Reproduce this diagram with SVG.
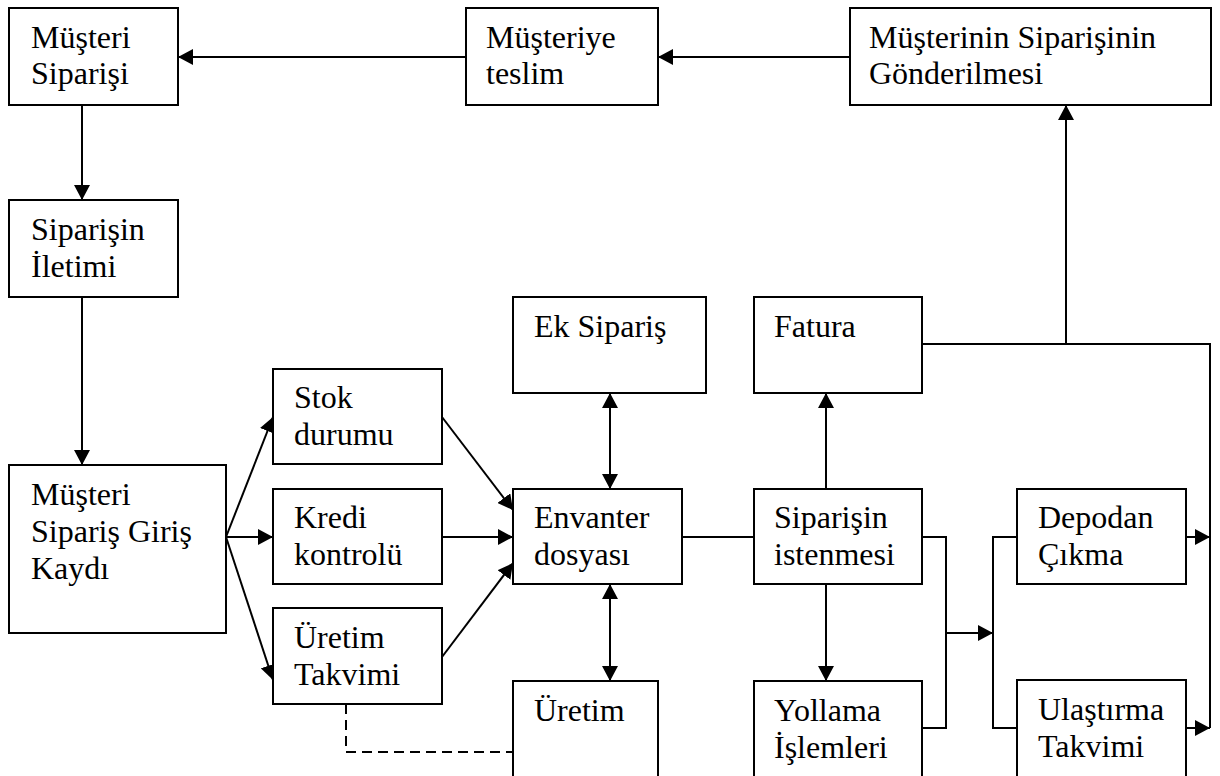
<svg xmlns="http://www.w3.org/2000/svg" width="1220" height="776" viewBox="0 0 1220 776">
  <defs>
    <marker id="arrow" markerUnits="userSpaceOnUse" markerWidth="16" markerHeight="16" refX="15" refY="8" orient="auto-start-reverse">
      <path d="M0,0 L15,8 L0,16 z" fill="#000"/>
    </marker>
  </defs>
  <style>
    .box { fill: #fff; stroke: #000; stroke-width: 2; }
    .lbl { font-family: "Liberation Serif", "Times New Roman", serif; font-size: 32px; fill: #000; }
    .ln { fill: none; stroke: #000; stroke-width: 2; }
    .arr { marker-end: url(#arrow); }
    .both { marker-start: url(#arrow); marker-end: url(#arrow); }
    .dash { stroke-dasharray: 10 6; }
  </style>
  <rect width="1220" height="776" fill="#fff"/>

  <!-- connectors -->
  <g id="connectors">
    <line class="ln arr" x1="466" y1="57" x2="178" y2="57"/>
    <line class="ln arr" x1="850" y1="57" x2="658" y2="57"/>
    <line class="ln arr" x1="82" y1="105" x2="82" y2="200"/>
    <line class="ln arr" x1="82" y1="297" x2="82" y2="465"/>

    <line class="ln arr" x1="226" y1="537" x2="273" y2="417"/>
    <line class="ln arr" x1="226" y1="537" x2="273" y2="537"/>
    <line class="ln arr" x1="226" y1="537" x2="273" y2="680"/>

    <line class="ln arr" x1="442" y1="417" x2="513" y2="510"/>
    <line class="ln arr" x1="442" y1="537" x2="513" y2="537"/>
    <line class="ln arr" x1="442" y1="657" x2="513" y2="563"/>

    <polyline class="ln dash" points="346,704 346,752 513,752"/>

    <line class="ln both" x1="610" y1="393" x2="610" y2="489"/>
    <line class="ln both" x1="610" y1="584" x2="610" y2="681"/>
    <line class="ln" x1="682" y1="537" x2="754" y2="537"/>

    <line class="ln arr" x1="826" y1="489" x2="826" y2="393"/>
    <line class="ln arr" x1="826" y1="584" x2="826" y2="681"/>

    <polyline class="ln" points="922,344 1210,344 1210,728"/>
    <line class="ln arr" x1="1066" y1="344" x2="1066" y2="105"/>

    <polyline class="ln" points="922,537 946,537 946,728 922,728"/>
    <line class="ln arr" x1="946" y1="633" x2="993" y2="633"/>
    <polyline class="ln" points="1017,537 993,537 993,728 1017,728"/>

    <line class="ln arr" x1="1186" y1="537" x2="1210" y2="537"/>
    <line class="ln arr" x1="1186" y1="728" x2="1210" y2="728"/>
  </g>

  <!-- nodes -->
  <g id="musteri-siparisi">
    <rect class="box" x="9" y="8" width="169" height="97"/>
    <text class="lbl" x="31" y="48">Müşteri</text>
    <text class="lbl" x="31" y="84">Siparişi</text>
  </g>
  <g id="musteriye-teslim">
    <rect class="box" x="466" y="8" width="192" height="97"/>
    <text class="lbl" x="486" y="48">Müşteriye</text>
    <text class="lbl" x="486" y="84">teslim</text>
  </g>
  <g id="gonderilmesi">
    <rect class="box" x="850" y="8" width="361" height="97"/>
    <text class="lbl" x="869" y="48">Müşterinin Siparişinin</text>
    <text class="lbl" x="869" y="84">Gönderilmesi</text>
  </g>
  <g id="siparisin-iletimi">
    <rect class="box" x="9" y="200" width="169" height="97"/>
    <text class="lbl" x="31" y="240">Siparişin</text>
    <text class="lbl" x="31" y="277">İletimi</text>
  </g>
  <g id="giris-kaydi">
    <rect class="box" x="9" y="465" width="217" height="168"/>
    <text class="lbl" x="31" y="505">Müşteri</text>
    <text class="lbl" x="31" y="542">Sipariş Giriş</text>
    <text class="lbl" x="31" y="579">Kaydı</text>
  </g>
  <g id="stok-durumu">
    <rect class="box" x="273" y="369" width="169" height="95"/>
    <text class="lbl" x="294" y="408">Stok</text>
    <text class="lbl" x="294" y="445">durumu</text>
  </g>
  <g id="kredi-kontrolu">
    <rect class="box" x="273" y="489" width="169" height="95"/>
    <text class="lbl" x="294" y="528">Kredi</text>
    <text class="lbl" x="294" y="565">kontrolü</text>
  </g>
  <g id="uretim-takvimi">
    <rect class="box" x="273" y="608" width="169" height="96"/>
    <text class="lbl" x="294" y="648">Üretim</text>
    <text class="lbl" x="294" y="685">Takvimi</text>
  </g>
  <g id="ek-siparis">
    <rect class="box" x="513" y="297" width="193" height="96"/>
    <text class="lbl" x="534" y="337">Ek Sipariş</text>
  </g>
  <g id="fatura">
    <rect class="box" x="754" y="297" width="168" height="96"/>
    <text class="lbl" x="774" y="337">Fatura</text>
  </g>
  <g id="envanter-dosyasi">
    <rect class="box" x="513" y="489" width="169" height="95"/>
    <text class="lbl" x="534" y="528">Envanter</text>
    <text class="lbl" x="534" y="565">dosyası</text>
  </g>
  <g id="siparisin-istenmesi">
    <rect class="box" x="754" y="489" width="168" height="95"/>
    <text class="lbl" x="774" y="528">Siparişin</text>
    <text class="lbl" x="774" y="565">istenmesi</text>
  </g>
  <g id="uretim">
    <rect class="box" x="513" y="681" width="145" height="100"/>
    <text class="lbl" x="534" y="721">Üretim</text>
  </g>
  <g id="yollama-islemleri">
    <rect class="box" x="754" y="681" width="168" height="100"/>
    <text class="lbl" x="774" y="721">Yollama</text>
    <text class="lbl" x="774" y="758">İşlemleri</text>
  </g>
  <g id="depodan-cikma">
    <rect class="box" x="1017" y="489" width="169" height="95"/>
    <text class="lbl" x="1038" y="528">Depodan</text>
    <text class="lbl" x="1038" y="565">Çıkma</text>
  </g>
  <g id="ulastirma-takvimi">
    <rect class="box" x="1017" y="680" width="169" height="101"/>
    <text class="lbl" x="1038" y="720">Ulaştırma</text>
    <text class="lbl" x="1038" y="757">Takvimi</text>
  </g>
</svg>
